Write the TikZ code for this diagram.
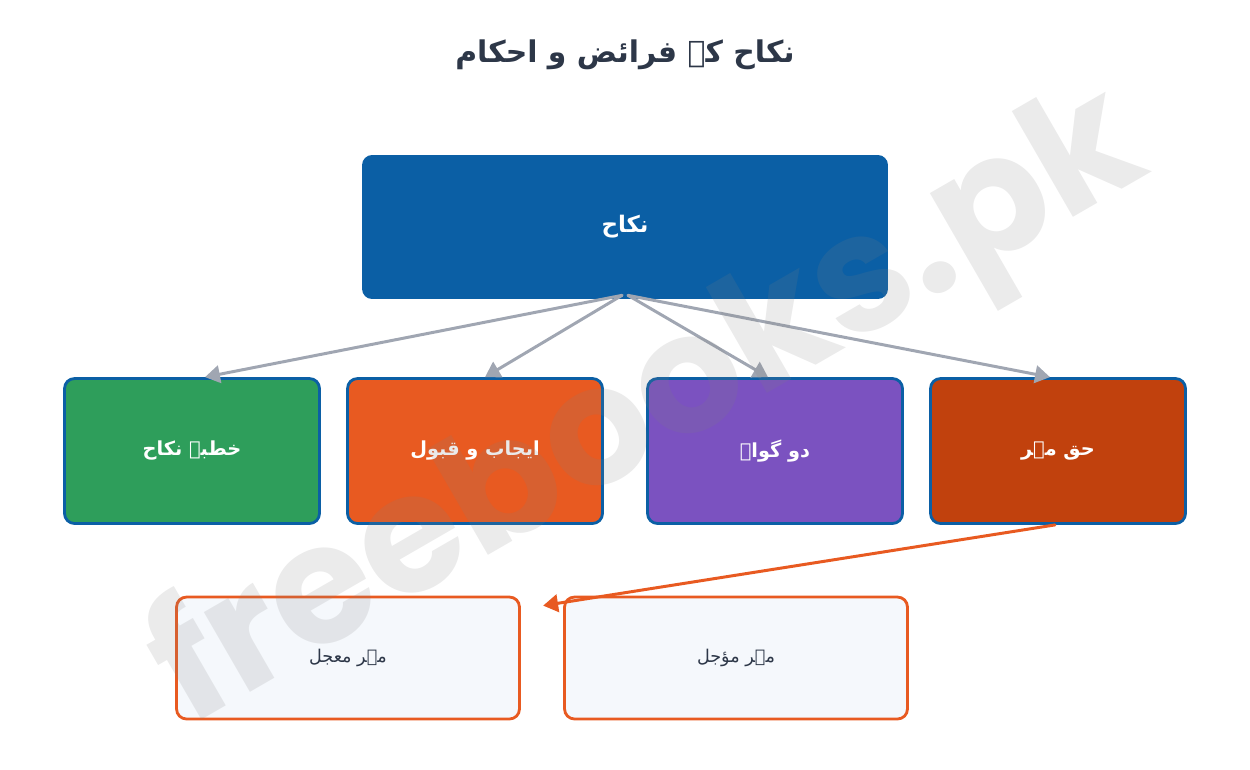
\documentclass[tikz,border=0pt]{standalone}
\usepackage{fontspec}
\usepackage{xcolor}
\usetikzlibrary{positioning,calc,arrows.meta}
\TeXXeTstate=1
\newfontfamily\urdufont[Script=Arabic]{DejaVu Sans}
\newfontfamily\markfont{Poppins}

\definecolor{nikahblue}{HTML}{0B5FA5}
\definecolor{khutbagreen}{HTML}{2E9E5B}
\definecolor{ijaborange}{HTML}{E85A21}
\definecolor{gawahpurple}{HTML}{7B52C0}
\definecolor{mehrrust}{HTML}{C1410D}
\definecolor{leafbg}{HTML}{F5F8FC}
\definecolor{titleink}{HTML}{2D3748}
\definecolor{linkgray}{HTML}{A0A6B2}

\begin{document}
\begin{tikzpicture}[x=0.02cm,y=-0.02cm,>={Triangle[length=8.5pt,width=10pt]},line cap=round,line join=round,
	rootbox/.style={fill=nikahblue,rounded corners=0.2cm,minimum width=10.52cm,minimum height=2.88cm,
		text=white,font=\urdufont\bfseries\fontsize{13}{15}\selectfont},
	rowbox/.style={draw=nikahblue,line width=1.6pt,rounded corners=0.2cm,minimum width=5.1cm,minimum height=2.9cm,
		text=white,font=\urdufont\bfseries\fontsize{11}{13}\selectfont},
	leafbox/.style={draw=ijaborange,fill=leafbg,line width=1.6pt,rounded corners=0.2cm,minimum width=6.86cm,minimum height=2.44cm,
		text=titleink,font=\urdufont\fontsize{10}{12}\selectfont},
	link/.style={->,linkgray,line width=1.7pt},
	mehrlink/.style={->,ijaborange,line width=1.7pt}]
	
	% canvas
	\useasboundingbox (0,0) rectangle (1250,769);
	
	% title
	\node[font=\urdufont\bfseries\fontsize{17}{20}\selectfont,text=titleink] (title) at (625,55) {\beginR نکاح کے فرائض و احکام\endR};
	
	% root
	\node[rootbox] (nikah) at (625,227) {\beginR نکاح\endR};
	
	% four pillars
	\foreach \name/\xx/\col/\txt in {khutba/192/khutbagreen/{خطبہ نکاح},
		ijab/475/ijaborange/{ایجاب و قبول},
		gawah/775/gawahpurple/{دو گواہ},
		haq/1058/mehrrust/{حق مہر}}{
		\node[rowbox,fill=\col] (\name) at (\xx,451) {\beginR\txt\endR};
	}
	
	% kinds of mehr
	\node[leafbox] (muajjal) at (348,658) {\beginR مہر معجل\endR};
	\node[leafbox] (muwajjal) at (736,658) {\beginR مہر مؤجل\endR};
	
	% links from root
	\foreach \name/\sx/\dx in {khutba/-3/13, ijab/-3/10, gawah/3/-7, haq/3/-8}{
		\draw[link] ($(nikah.south)+(\sx,-4)$) -- ($(\name.north)+(\dx,0)$);
	}
	
	% mehr link
	\coordinate (mehrtip) at ($(muwajjal.north west)+(-20,10)$);
	\draw[mehrlink] ($(haq.south)+(-3,0)$) -- (mehrtip);
	
	% watermark
	\node[font=\markfont\bfseries\fontsize{94}{94}\selectfont,text=gray,text opacity=0.16,rotate=30] (watermark) at (650,412) {freebooks.pk};
\end{tikzpicture}
\end{document}
